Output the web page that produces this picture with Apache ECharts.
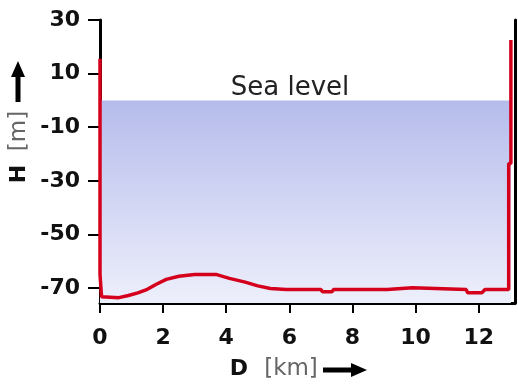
<!DOCTYPE html>
<html>
<head>
<meta charset="utf-8">
<script src="https://cdn.jsdelivr.net/npm/echarts@6/dist/echarts.min.js"></script>
<style>
  html, body { margin: 0; padding: 0; background: #fff; }
  #chart { width: 518px; height: 385px; }
</style>
</head>
<body>
<div id="chart"></div>
<script>
// Depth profile across the basin: distance D (km) and height H (m)
const distanceKm = [0, 0, 0.05, 0.05, 0.6, 0.9, 1.2, 1.5, 1.8, 2.1, 2.5, 3.0, 3.7, 4.1, 4.6, 5.0, 5.4, 5.9,
  7.0, 7.05, 7.35, 7.4, 9.1, 9.15, 9.9, 9.95, 11.6, 11.65, 12.1, 12.2, 12.95, 12.95, 13.02, 13.02];
const heightM = [15.5, -65, -65, -73.3, -73.6, -72.8, -71.8, -70.5, -68.5, -66.8, -65.6, -65.0, -65.0, -66.4, -67.8, -69.2, -70.2, -70.6,
  -70.6, -71.4, -71.4, -70.6, -70.6, -69.9, -69.9, -70.6, -70.6, -71.8, -71.8, -70.6, -70.6, -23.5, -23.5, 22.5];

const seaLevel = 0;
const seaExtentKm = [0, 13.02];
const yTicks = [30, 10, -10, -30, -50, -70];
const xTicks = [0, 2, 4, 6, 8, 10, 12];
const yRange = [-75.6, 30];
const xRange = [0, 13.15];

const profile = distanceKm.map((d, i) => [d, heightM[i]]);
const sea = seaExtentKm.map(d => [d, seaLevel]);

const FONT = '"DejaVu Sans", Verdana, sans-serif';

const chart = echarts.init(document.getElementById('chart'), null, { renderer: 'canvas' });

const yBase = {
  type: 'value', min: yRange[0], max: yRange[1],
  splitLine: { show: false }
};

const tickLabel = { color: '#111', fontSize: 22, fontWeight: 'bold', fontFamily: FONT };

chart.setOption({
  animation: false,
  backgroundColor: '#ffffff',
  grid: { left: 100, right: 3, top: 20, bottom: 82, containLabel: false },
  xAxis: {
    type: 'value', min: xRange[0], max: xRange[1],
    axisLine: { show: true, onZero: false, lineStyle: { color: '#000', width: 3 } },
    axisTick: { show: true, length: 10, inside: false, customValues: xTicks, lineStyle: { color: '#000', width: 2 } },
    axisLabel: Object.assign({ customValues: xTicks, margin: 24 }, tickLabel),
    splitLine: { show: false }
  },
  yAxis: [
    Object.assign({}, yBase, {
      position: 'left',
      axisLine: { show: true, onZero: false, lineStyle: { color: '#000', width: 3 } },
      axisTick: { show: true, length: 12, inside: false, customValues: yTicks, lineStyle: { color: '#000', width: 2 } },
      axisLabel: Object.assign({ customValues: yTicks, margin: 20 }, tickLabel)
    }),
    Object.assign({}, yBase, {
      position: 'right',
      axisLine: { show: true, onZero: false, lineStyle: { color: '#000', width: 3 } },
      axisTick: { show: false },
      axisLabel: { show: false }
    })
  ],
  series: [
    {
      // water body below sea level
      type: 'line',
      data: sea,
      symbol: 'none',
      lineStyle: { width: 0 },
      areaStyle: {
        origin: 'start',
        opacity: 1,
        color: new echarts.graphic.LinearGradient(0, 0, 0, 1, [
          { offset: 0, color: '#b5bceb' },
          { offset: 0.5, color: '#d2d6f4' },
          { offset: 1, color: '#edeffb' }
        ])
      },
      z: 1
    },
    {
      type: 'line',
      data: profile,
      symbol: 'none',
      lineStyle: { color: '#d4001c', width: 3.5 },
      z: 3
    }
  ],
  graphic: [
    {
      type: 'text', x: 290, y: 88,
      style: { text: 'Sea level', font: '26px ' + FONT, fill: '#222', align: 'center', verticalAlign: 'middle' },
      z: 10
    },
    {
      // x axis title
      type: 'text', x: 239, y: 369,
      style: { text: 'D', font: 'bold 22px ' + FONT, fill: '#111', align: 'center', verticalAlign: 'middle' }
    },
    {
      type: 'text', x: 291, y: 369,
      style: { text: '[km]', font: '23px ' + FONT, fill: '#666', align: 'center', verticalAlign: 'middle' }
    },
    {
      type: 'polyline', shape: { points: [[323, 370], [354, 370]] },
      style: { stroke: '#000', lineWidth: 5 }
    },
    {
      type: 'polygon', shape: { points: [[351, 363], [367, 370], [351, 377]] },
      style: { fill: '#000' }
    },
    {
      // y axis title
      type: 'text', x: 19, y: 174, rotation: Math.PI / 2,
      style: { text: 'H', font: 'bold 22px ' + FONT, fill: '#111', align: 'center', verticalAlign: 'middle' }
    },
    {
      type: 'text', x: 19, y: 131, rotation: Math.PI / 2,
      style: { text: '[m]', font: '23px ' + FONT, fill: '#666', align: 'center', verticalAlign: 'middle' }
    },
    {
      type: 'polyline', shape: { points: [[18, 102], [18, 74]] },
      style: { stroke: '#000', lineWidth: 5 }
    },
    {
      type: 'polygon', shape: { points: [[11, 77], [18, 61], [25, 77]] },
      style: { fill: '#000' }
    }
  ]
});
</script>
</body>
</html>
